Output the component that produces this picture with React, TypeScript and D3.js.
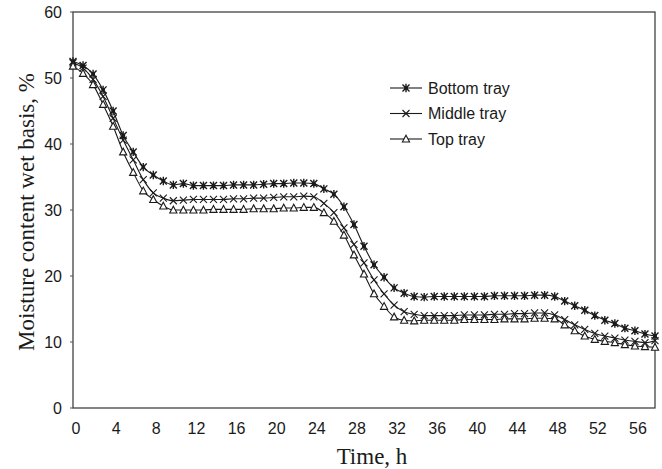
import React from 'react'
import * as d3 from 'd3'

// hourly readings, 0..58 h
const hours = d3.range(0, 59)

const bottomTray = [
  52.5, 51.9, 50.6, 48.2, 45.0, 41.3, 38.8, 36.5, 35.3, 34.4,
  33.8, 34.0, 33.7, 33.7, 33.7, 33.7, 33.8, 33.8, 33.8, 33.9,
  34.0, 34.0, 34.1, 34.1, 34.0, 33.2, 32.4, 30.5, 27.8, 24.5,
  21.7, 19.8, 18.2, 17.4, 16.9, 16.8, 16.9, 16.9, 16.9, 16.9,
  16.9, 16.9, 17.0, 17.0, 17.0, 17.0, 17.1, 17.1, 16.9, 16.2,
  15.5, 14.8, 14.0, 13.3, 12.8, 12.1, 11.7, 11.2, 10.9
]

const middleTray = [
  52.3, 51.5, 49.8, 47.2, 43.9, 40.6, 37.6, 34.6, 32.6, 31.8,
  31.4, 31.5, 31.6, 31.6, 31.6, 31.6, 31.7, 31.7, 31.8, 31.8,
  31.9, 32.0, 32.0, 32.1, 32.0, 31.0, 29.6, 27.3, 24.8, 22.0,
  19.4, 17.3, 15.6, 14.6, 14.2, 14.0, 14.0, 14.0, 14.0, 14.1,
  14.1, 14.1, 14.2, 14.2, 14.3, 14.3, 14.4, 14.4, 14.1, 13.4,
  12.6, 11.9, 11.3, 10.9, 10.6, 10.3, 10.1, 9.9, 10.2
]

const topTray = [
  51.8, 50.7, 49.0, 46.0, 42.7, 38.8, 35.7, 32.9, 31.6, 30.6,
  30.0, 30.0, 30.0, 30.0, 30.1, 30.1, 30.1, 30.1, 30.2, 30.2,
  30.2, 30.3, 30.3, 30.4, 30.4, 29.6, 28.3, 26.2, 23.2, 20.3,
  17.3, 15.4, 13.8, 13.3, 13.2, 13.3, 13.3, 13.3, 13.3, 13.4,
  13.4, 13.4, 13.4, 13.5, 13.5, 13.5, 13.6, 13.6, 13.5, 12.6,
  11.7, 10.9, 10.4, 10.1, 9.9, 9.6, 9.4, 9.3, 9.2
]

const seriesNames = ['Bottom tray', 'Middle tray', 'Top tray']
const xTicks = d3.range(0, 57, 4)
const yTicks = d3.range(0, 61, 10)

const W = 662
const H = 469
const left = 73
const right = 655
const top = 12
const bottom = 408

const ink = '#1a1a1a'

function Marker ({kind}: {kind: string}) {
  if (kind === 'Bottom tray') {
    return <path d='M-3.5,-3.5L3.5,3.5M-3.5,3.5L3.5,-3.5M0,-4.2L0,4.2M-2,0L2,0' stroke={ink} strokeWidth={1.4} fill='none' />
  }
  if (kind === 'Middle tray') {
    return <path d='M-3.5,-3.5L3.5,3.5M-3.5,3.5L3.5,-3.5' stroke={ink} strokeWidth={1.1} fill='none' />
  }
  return <path d='M0,-3.8L3.6,3L-3.6,3Z' stroke={ink} strokeWidth={1.1} fill='white' />
}

export default function App () {
  const x = d3.scaleLinear().domain([0, 58]).range([left, right])
  const y = d3.scaleLinear().domain([0, 60]).range([bottom, top])
  const all = [bottomTray, middleTray, topTray]
  const line = d3.line<number>().x((d, i) => x(hours[i])).y(d => y(d)).curve(d3.curveMonotoneX)

  return (
    <svg width={W} height={H} style={{position: 'absolute', left: 0, top: 0, background: 'white'}}
      fontFamily='Liberation Sans, Arial, sans-serif'>
      <rect x={0} y={0} width={W} height={H} fill='white' />
      <rect x={left} y={top} width={right - left} height={bottom - top} fill='none' stroke='#333' strokeWidth={1.2} />

      {yTicks.map(t => (
        <g key={'y' + t}>
          <line x1={left - 3} x2={left} y1={y(t)} y2={y(t)} stroke='#555' />
          <text x={left - 11} y={y(t)} dy='0.35em' textAnchor='end' fontSize={16} fill={ink}>{t}</text>
        </g>
      ))}
      {xTicks.map(t => (
        <text key={'x' + t} x={x(t) + 3} y={bottom + 26} textAnchor='middle' fontSize={16} fill={ink}>{t}</text>
      ))}

      <text transform={`translate(34,${(top + bottom) / 2 + 2}) rotate(-90)`} textAnchor='middle'
        fontFamily='Liberation Serif, Times New Roman, serif' fontSize={23} fill={ink}>
        Moisture content wet basis, %
      </text>
      <text x={(left + right) / 2 + 8} y={464} textAnchor='middle'
        fontFamily='Liberation Serif, Times New Roman, serif' fontSize={23} fill={ink}>
        Time, h
      </text>

      {all.map((s, k) => (
        <g key={'s' + k}>
          <path d={line(s) || ''} fill='none' stroke={ink} strokeWidth={1.1} />
          {s.map((v, i) => (
            <g key={i} transform={`translate(${x(hours[i])},${y(v)})`}>
              <Marker kind={seriesNames[k]} />
            </g>
          ))}
        </g>
      ))}

      {seriesNames.map((n, k) => (
        <g key={'l' + k} transform={`translate(0,${88 + k * 25.5})`}>
          <line x1={390} x2={422} y1={0} y2={0} stroke={ink} strokeWidth={1.1} />
          <g transform='translate(406,0)'><Marker kind={n} /></g>
          <text x={428} y={0} dy='0.35em' fontSize={16} fill={ink}>{n}</text>
        </g>
      ))}
    </svg>
  )
}
